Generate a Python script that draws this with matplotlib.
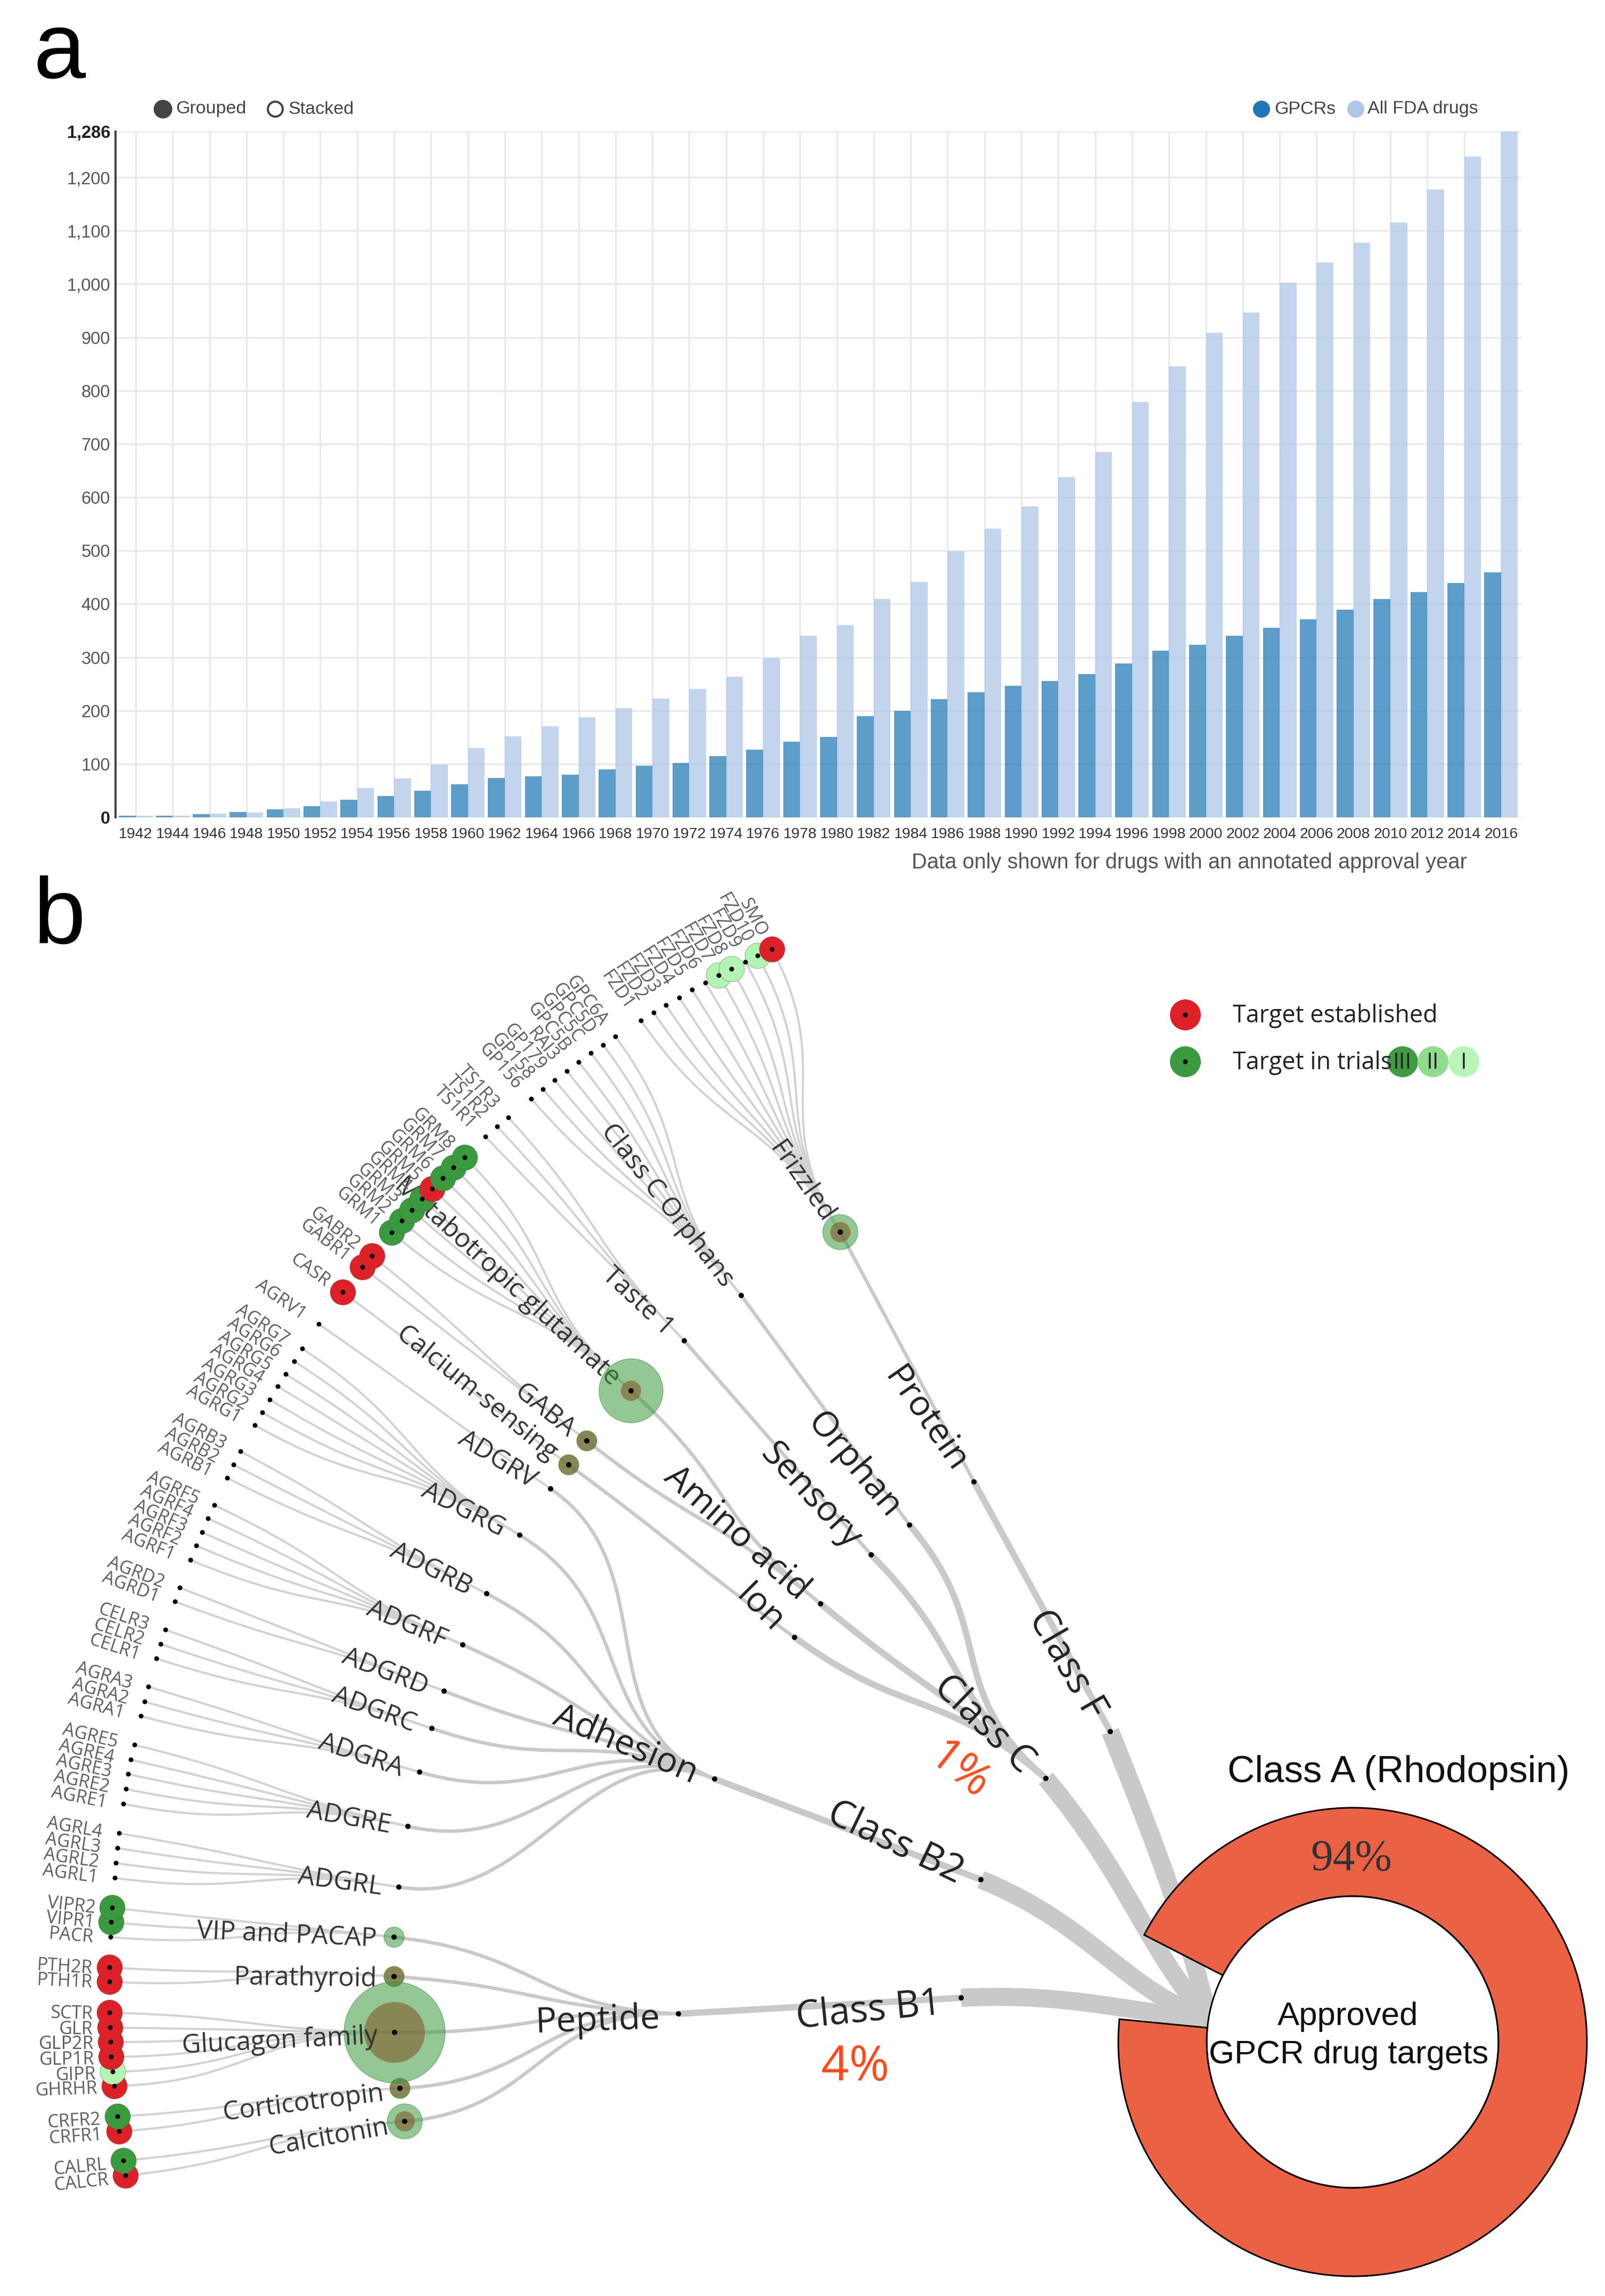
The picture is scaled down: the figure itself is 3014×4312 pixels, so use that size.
import numpy as np
import matplotlib
matplotlib.use('Agg')
import matplotlib.pyplot as plt
from matplotlib.patches import Circle, Wedge, PathPatch
from matplotlib.path import Path

# panel a
years = list(range(1942, 2017, 2))
gpcr_drugs = [3, 3, 6, 10, 15, 21, 33, 40, 50, 62, 74, 77, 80, 90, 97, 102, 115, 127, 142,
              151, 190, 200, 222, 235, 247, 256, 269, 289, 313, 323, 340, 355, 371, 389, 409, 422, 439, 459]
fda_drugs = [3, 3, 7, 9, 17, 30, 55, 73, 99, 130, 152, 171, 188, 205, 223, 241, 264, 299, 340,
             360, 409, 441, 499, 541, 583, 638, 685, 779, 846, 909, 947, 1002, 1040, 1077, 1115, 1177, 1239, 1286]
y_ticks = list(range(0, 1201, 100)) + [1286]

# panel b, tree: class -> family -> hub -> receptor
class_names = ['Class F', 'Class C', 'Class B2', 'Class B1']
class_share = ['', '1%', '', '4%']

family_names = ['Protein', 'Orphan', 'Sensory', 'Amino acid', 'Ion', 'Adhesion', 'Peptide']
family_parent = ['Class F', 'Class C', 'Class C', 'Class C', 'Class C', 'Class B2', 'Class B1']

hub_names = ['Frizzled', 'Class C Orphans', 'Taste 1', 'Metabotropic glutamate', 'GABA', 'Calcium-sensing',
             'ADGRV', 'ADGRG', 'ADGRB', 'ADGRF', 'ADGRD', 'ADGRC', 'ADGRA', 'ADGRE', 'ADGRL',
             'VIP and PACAP', 'Parathyroid', 'Glucagon family', 'Corticotropin', 'Calcitonin']
hub_parent = ['Protein', 'Orphan', 'Sensory', 'Amino acid', 'Amino acid', 'Ion'] + ['Adhesion'] * 9 + ['Peptide'] * 5
hub_established = [1, 0, 0, 1, 1, 1, 0, 0, 0, 0, 0, 0, 0, 0, 0, 0, 1, 9, 1, 1]
hub_trials = [3, 0, 0, 10, 1, 1, 0, 0, 0, 0, 0, 0, 0, 0, 0, 1, 1, 25, 1, 3]

receptor_names = ['SMO', 'FZD10', 'FZD9', 'FZD8', 'FZD7', 'FZD6', 'FZD5', 'FZD4', 'FZD3', 'FZD2', 'FZD1',
                  'GPC6A', 'GPC5D', 'GPC5C', 'GPC5B', 'RAI3', 'GP179', 'GP158', 'GP156',
                  'TS1R3', 'TS1R2', 'TS1R1',
                  'GRM8', 'GRM7', 'GRM6', 'GRM5', 'GRM4', 'GRM3', 'GRM2', 'GRM1',
                  'GABR2', 'GABR1', 'CASR', 'AGRV1',
                  'AGRG7', 'AGRG6', 'AGRG5', 'AGRG4', 'AGRG3', 'AGRG2', 'AGRG1',
                  'AGRB3', 'AGRB2', 'AGRB1',
                  'AGRF5', 'AGRF4', 'AGRF3', 'AGRF2', 'AGRF1',
                  'AGRD2', 'AGRD1', 'CELR3', 'CELR2', 'CELR1', 'AGRA3', 'AGRA2', 'AGRA1',
                  'AGRE5', 'AGRE4', 'AGRE3', 'AGRE2', 'AGRE1',
                  'AGRL4', 'AGRL3', 'AGRL2', 'AGRL1',
                  'VIPR2', 'VIPR1', 'PACR', 'PTH2R', 'PTH1R',
                  'SCTR', 'GLR', 'GLP2R', 'GLP1R', 'GIPR', 'GHRHR',
                  'CRFR2', 'CRFR1', 'CALRL', 'CALCR']
receptor_hub = (['Frizzled'] * 11 + ['Class C Orphans'] * 8 + ['Taste 1'] * 3 + ['Metabotropic glutamate'] * 8
                + ['GABA'] * 2 + ['Calcium-sensing'] + ['ADGRV'] + ['ADGRG'] * 7 + ['ADGRB'] * 3 + ['ADGRF'] * 5
                + ['ADGRD'] * 2 + ['ADGRC'] * 3 + ['ADGRA'] * 3 + ['ADGRE'] * 5 + ['ADGRL'] * 4
                + ['VIP and PACAP'] * 3 + ['Parathyroid'] * 2 + ['Glucagon family'] * 6
                + ['Corticotropin'] * 2 + ['Calcitonin'] * 2)
# E established, 3/1 highest trial phase, missing means no drug
receptor_status = {'SMO': 'E', 'FZD10': '1', 'FZD8': '1', 'FZD7': '1', 'GRM8': '3', 'GRM7': '3', 'GRM6': '3',
                   'GRM5': 'E', 'GRM4': '3', 'GRM3': '3', 'GRM2': '3', 'GRM1': '3', 'GABR2': 'E', 'GABR1': 'E',
                   'CASR': 'E', 'VIPR2': '3', 'VIPR1': '3', 'PTH2R': 'E', 'PTH1R': 'E', 'SCTR': 'E', 'GLR': 'E',
                   'GLP2R': 'E', 'GLP1R': 'E', 'GIPR': '1', 'GHRHR': 'E', 'CRFR2': '3', 'CRFR1': 'E',
                   'CALRL': '3', 'CALCR': 'E'}

# layout, in pixels of the picture
class_xy = [(2085, 3252), (1964, 3340), (1842, 3530), (1805, 3752)]
family_xy = [(1829, 2783), (1708, 2864), (1636, 2920), (1541, 3012), (1492, 3075), (1342, 3341), (1274, 3782)]
hub_xy = [(1578, 2314), (1392, 2433), (1285, 2518), (1185, 2612), (1102, 2706), (1068, 2751),
          (1034, 2796), (976, 2883), (914, 2993), (869, 3089), (834, 3176), (811, 3246), (788, 3328),
          (766, 3430), (749, 3544), (740, 3638), (740, 3712), (741, 3817), (751, 3922), (760, 3984)]
receptor_xy = [(1450, 1783), (1423, 1795), (1400, 1807), (1374, 1820), (1350, 1832), (1325, 1846), (1300, 1859),
               (1276, 1874), (1251, 1888), (1228, 1902), (1204, 1917),
               (1156, 1947), (1133, 1963), (1110, 1978), (1087, 1995), (1065, 2012), (1042, 2029), (1020, 2046), (998, 2064),
               (955, 2099), (934, 2116), (912, 2135),
               (873, 2174), (852, 2193), (832, 2213), (812, 2233), (793, 2252), (774, 2273), (755, 2293), (736, 2315),
               (699, 2359), (681, 2380), (644, 2427), (599, 2487),
               (568, 2533), (553, 2557), (537, 2581), (522, 2604), (507, 2629), (493, 2653), (479, 2677),
               (452, 2726), (439, 2751), (427, 2776),
               (403, 2827), (391, 2852), (380, 2878), (369, 2903), (358, 2930),
               (338, 2982), (329, 3008), (311, 3061), (302, 3088), (294, 3115), (279, 3168), (272, 3196), (265, 3223),
               (253, 3277), (246, 3305), (241, 3332), (237, 3360), (232, 3388),
               (224, 3443), (221, 3471), (218, 3499), (216, 3527),
               (211, 3583), (209, 3610), (208, 3638), (206, 3695), (206, 3722),
               (206, 3780), (207, 3808), (208, 3835), (209, 3863), (212, 3891), (215, 3918),
               (221, 3975), (224, 4003), (232, 4058), (236, 4086)]
class_angle = [60, 44, 25.6, -5.6]
family_angle = [55, 50, 47, 42, 45, 23, -2]
hub_angle = [55, 52, 43, 42.5, 39, 39, 31.5, 27, 26.5, 23, 21, 20.5, 18.8, 10.6, 7.7, 2.6, 0.8, -2.9, -7.1, -10]
class_tangent = [68, 50, 22, -3]
root_tangent = [[-0.25, -1.0], [-0.7, -0.75], [-1.0, -0.3], [-1.0, -0.05]]
straight_links = ['Frizzled', 'Class C Orphans', 'Taste 1', 'Protein', 'Adhesion', 'Peptide']

center = np.array([2540.0, 3835.0])
root = np.array([2270.0, 3790.0])
DPI = 100
RED = '#de2027'
GREEN = '#3a9a3e'
LINK = '#c9c9c9'
SANS = ['Liberation Sans', 'DejaVu Sans']
TREE = ['Open Sans', 'DejaVu Sans']


def pt(px):
    return px * 72.0 / DPI


def radial_link(ax, source, target, width, color=LINK, straight=False):
    # same shape as d3.linkRadial around the donut centre
    s = np.array(source, dtype=float) - center
    t = np.array(target, dtype=float) - center
    if straight:
        path = Path([source, target])
    else:
        rm = (np.hypot(*s) + np.hypot(*t)) / 2.0
        c1 = center + s / np.hypot(*s) * rm
        c2 = center + t / np.hypot(*t) * rm
        path = Path([source, c1, c2, target], [Path.MOVETO, Path.CURVE4, Path.CURVE4, Path.CURVE4])
    ax.add_patch(PathPatch(path, fc='none', ec=color, lw=pt(width), capstyle='butt', zorder=1))


def class_link(ax, target, tangent, root_dir, width):
    t = np.array(target, dtype=float)
    d = np.hypot(*(t - root))
    a = np.radians(tangent)
    c2 = t + 0.45 * d * np.array([np.cos(a), np.sin(a)])
    c1 = root + 0.3 * d * np.array(root_dir)
    path = Path([root, c1, c2, t], [Path.MOVETO, Path.CURVE4, Path.CURVE4, Path.CURVE4])
    ax.add_patch(PathPatch(path, fc='none', ec=LINK, lw=pt(width), capstyle='butt', zorder=1))


def node_label(ax, xy, name, angle, offset, size, color, z=20):
    a = np.radians(angle)
    x = xy[0] - offset * np.cos(a)
    y = xy[1] - offset * np.sin(a)
    ax.text(x, y, name, rotation=-angle, rotation_mode='anchor', ha='right', va='center_baseline',
            fontsize=size, color=color, family=TREE, zorder=z)


def dot(ax, xy, r=5, z=15):
    ax.add_patch(Circle(xy, r, fc='black', ec='none', zorder=z))


fig = plt.figure(figsize=(30.14, 43.12), dpi=DPI)
ax_b = fig.add_axes([0, 0, 1, 1])
ax_b.set_xlim(0, 3014)
ax_b.set_ylim(4312, 0)
ax_b.axis('off')

# bars
ax_a = fig.add_axes([217 / 3014, 1 - 1535 / 4312, (2857 - 217) / 3014, (1535 - 247) / 4312])
ax_a.patch.set_alpha(0)
idx = np.arange(len(years))
bar_w = 0.455
ax_a.bar(idx - bar_w / 2, gpcr_drugs, bar_w, color='#1f77b4', alpha=0.72, zorder=3)
ax_a.bar(idx + bar_w / 2, fda_drugs, bar_w, color='#aec7e8', alpha=0.75, zorder=3)
ax_a.set_xlim(-0.548, 37.55)
ax_a.set_ylim(0, 1286)
ax_a.set_xticks(idx)
ax_a.set_xticklabels(years, family=SANS, fontsize=20.5, color='#333333')
ax_a.set_yticks(y_ticks)
ax_a.set_yticklabels([f'{v:,}' for v in y_ticks], family=SANS, fontsize=23.5, color='#555555')
for lab, v in zip(ax_a.get_yticklabels(), y_ticks):
    if v in (0, 1286):
        lab.set_fontweight('bold')
        lab.set_color('#222222')
ax_a.tick_params(axis='both', length=0)
ax_a.tick_params(axis='x', pad=pt(19))
ax_a.tick_params(axis='y', pad=pt(10))
ax_a.grid(True, color='#e9e9e9', lw=pt(3.2), zorder=0)
ax_a.set_axisbelow(True)
for side in ('top', 'right', 'bottom'):
    ax_a.spines[side].set_visible(False)
ax_a.spines['left'].set_color('#444444')
ax_a.spines['left'].set_linewidth(pt(4))

ax_b.text(63, 146, 'a', fontsize=127, family=SANS, color='black', ha='left', va='baseline')
ax_b.text(63, 1772, 'b', fontsize=127, family=SANS, color='black', ha='left', va='baseline')

# legend of panel a
ax_b.add_patch(Circle((306, 205), 16, fc='#444444', ec='#444444', lw=pt(3)))
ax_b.add_patch(Circle((517, 205), 14, fc='white', ec='#444444', lw=pt(4)))
ax_b.add_patch(Circle((2369, 205), 16, fc='#1f77b4', ec='none'))
ax_b.add_patch(Circle((2546, 205), 16, fc='#aec7e8', ec='none'))
for lx, lab in zip([330, 541, 2393, 2568], ['Grouped', 'Stacked', 'GPCRs', 'All FDA drugs']):
    ax_b.text(lx, 205, lab, fontsize=24.5, family=SANS, color='#444444', ha='left', va='center')
ax_b.text(2233, 1620, 'Data only shown for drugs with an annotated approval year', fontsize=28.7,
          family=SANS, color='#555555', ha='center', va='center')

# tree links, outer levels drawn first
class_pos = dict(zip(class_names, class_xy))
family_pos = dict(zip(family_names, family_xy))
hub_pos = dict(zip(hub_names, hub_xy))
for name, hub in zip(receptor_names, receptor_hub):
    radial_link(ax_b, hub_pos[hub], receptor_xy[receptor_names.index(name)], 4, '#d2d2d2')
for name, fam in zip(hub_names, hub_parent):
    radial_link(ax_b, family_pos[fam], hub_pos[name], 6.5, straight=name in straight_links)
for name, cl in zip(family_names, family_parent):
    radial_link(ax_b, class_pos[cl], family_pos[name], 12, straight=name in straight_links)
for xy, tg, rd in zip(class_xy, class_tangent, root_tangent):
    class_link(ax_b, xy, tg, rd, 34)

# receptors, lowest first so the upper ones overlap them
status_color = {'E': RED, '3': GREEN, '1': '#b2f5b2'}
order = sorted(range(len(receptor_names)), key=lambda i: -receptor_xy[i][1])
for k, i in enumerate(order):
    xy = receptor_xy[i]
    st = receptor_status.get(receptor_names[i], '')
    if st:
        ax_b.add_patch(Circle(xy, 24, fc=status_color[st], ec='#55555555', lw=pt(1.5), zorder=5 + k * 0.01))
    dot(ax_b, xy, 4.5, 6 + k * 0.01)
    a = np.degrees(np.arctan2(center[1] - xy[1], center[0] - xy[0]))
    node_label(ax_b, xy, receptor_names[i], a, 32, 24.5, '#5c5c5c')

# hubs, circle area follows the drug counts; their labels run under the receptor circles
for name, xy, est, tri, ang in zip(hub_names, hub_xy, hub_established, hub_trials, hub_angle):
    if est:
        ax_b.add_patch(Circle(xy, 19 * np.sqrt(est), fc=RED, ec='none', alpha=0.65, zorder=7))
    if tri:
        ax_b.add_patch(Circle(xy, 19 * np.sqrt(tri), fc=GREEN, ec=GREEN, lw=pt(1.5), alpha=0.55, zorder=8))
    dot(ax_b, xy, 5, 9)
    node_label(ax_b, xy, name, ang, 32, 35.5, '#333333', z=4 if name == 'Metabotropic glutamate' else 20)

for name, xy, ang in zip(family_names, family_xy, family_angle):
    dot(ax_b, xy)
    node_label(ax_b, xy, name, ang, 35, 47.5, '#222222')
for name, xy, ang in zip(class_names, class_xy, class_angle):
    dot(ax_b, xy)
    node_label(ax_b, xy, name, ang, 38, 51, '#222222')

ax_b.text(1800, 3327, class_share[1], rotation=-38, fontsize=62, color='#ff4a1c', family=TREE, ha='center', va='center')
ax_b.text(1606, 3883, class_share[3], fontsize=66, color='#ff4a1c', family=TREE, ha='center', va='center')

# donut, the gap is what the other classes take
class_a_share = 94
start = 207.2
ax_b.add_patch(Circle(center, 274, fc='white', ec='black', lw=pt(3), zorder=30))
ax_b.add_patch(Wedge(center, 440, start, start + 3.6 * class_a_share, width=166, fc='#eb6143', ec='black',
                     lw=pt(3), zorder=31))
ax_b.text(2538, 3492, f'{class_a_share}%', fontsize=60, family=['Liberation Serif', 'DejaVu Serif'],
          color='#333333', ha='center', va='center', zorder=32)
ax_b.text(2626, 3329, 'Class A (Rhodopsin)', fontsize=51, family=SANS, color='#111111', ha='center', va='center', zorder=32)
ax_b.text(2531, 3788, 'Approved', fontsize=44.5, family=SANS, color='#111111', ha='center', va='center', zorder=32)
ax_b.text(2533, 3860, 'GPCR drug targets', fontsize=44.5, family=SANS, color='#111111', ha='center', va='center', zorder=32)

# legend of panel b
for y, col in zip([1906, 1994], [RED, GREEN]):
    ax_b.add_patch(Circle((2226, y), 29, fc=col, ec='none', zorder=5))
    dot(ax_b, (2226, y), 4.5, 6)
ax_b.text(2315, 1908, 'Target established', fontsize=32.3, family=TREE, color='#222222', ha='left', va='center')
ax_b.text(2315, 1996, 'Target in trials', fontsize=32.3, family=TREE, color='#222222', ha='left', va='center', zorder=7)
for x, col, lab in zip([2634, 2691, 2749], ['#3f9b43', '#8fdc8f', '#b8f5b8'], ['III', 'II', 'I']):
    ax_b.add_patch(Circle((x, 1994), 29, fc=col, ec='none', zorder=5))
    ax_b.text(x, 1996, lab, fontsize=30, family=TREE, color='#222222', ha='center', va='center', zorder=6)

fig.savefig('out.png', dpi=DPI)
